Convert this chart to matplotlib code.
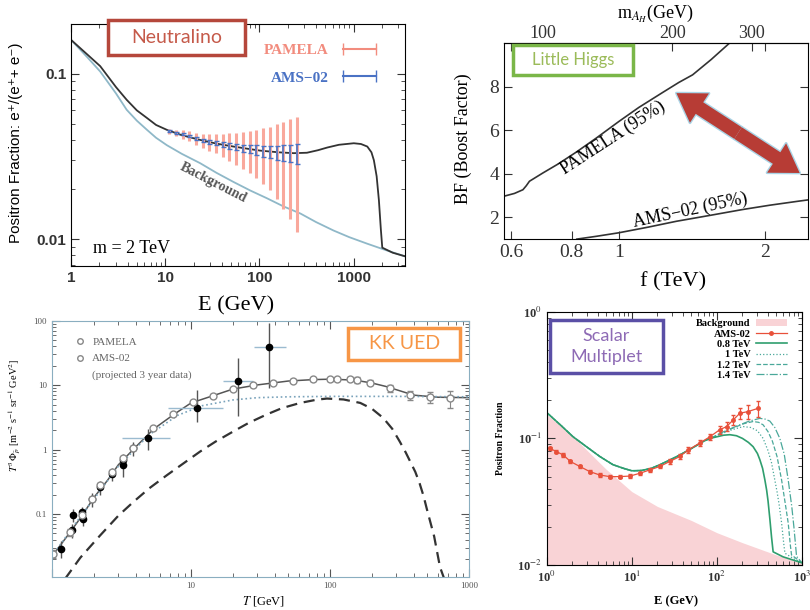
import numpy as np
import matplotlib
matplotlib.use('Agg')
import matplotlib.pyplot as plt
import matplotlib.ticker as mticker
from matplotlib.patches import Rectangle, Patch
from matplotlib.lines import Line2D

SERIF = ['Liberation Serif', 'DejaVu Serif']
SANS = ['Liberation Sans', 'DejaVu Sans']
BOXFONT = ['Lato', 'DejaVu Sans']
plt.rcParams['font.family'] = SERIF
plt.rcParams['mathtext.fontset'] = 'stix'

# ---------------- Neutralino (top left) ----------------
neu_E = [1, 1.5, 2.04, 3, 3.9, 5, 6.4, 8, 10.4, 15, 23.5, 35, 53, 75, 102, 160, 232, 320, 420,
         526, 700, 1007, 1200, 1400, 1550, 1645, 1760, 1860, 1950, 2020, 2600, 3500]
neu_total = [0.16, 0.13, 0.111, 0.083, 0.0695, 0.06, 0.054, 0.049, 0.0458, 0.0425, 0.0398,
             0.0378, 0.0363, 0.0352, 0.0343, 0.0335, 0.0331, 0.0333, 0.0345, 0.0358, 0.0372,
             0.038, 0.0376, 0.0363, 0.0335, 0.030, 0.024, 0.0172, 0.0115, 0.0089, 0.0083, 0.0079]
neu_bg_E = [1, 1.5, 2.04, 3, 3.9, 5, 6.4, 8, 10.4, 15, 23.5, 35, 53, 80, 120, 180, 273, 400,
            612, 900, 1400, 2200, 3500]
neu_bg = [0.16, 0.125, 0.103, 0.076, 0.0605, 0.052, 0.0458, 0.041, 0.037, 0.0328, 0.0288,
          0.0252, 0.0222, 0.0197, 0.0177, 0.0158, 0.0143, 0.0127, 0.0113, 0.0103, 0.0094,
          0.0086, 0.0079]
pam_E = [11, 13, 15.5, 18, 21, 25, 29.5, 35, 41, 48, 57, 67, 79, 93, 110, 130, 153, 180, 212, 250]
pam_c = [0.045, 0.044, 0.043, 0.042, 0.0405, 0.0395, 0.0388, 0.038, 0.0372, 0.0366, 0.036,
         0.0355, 0.035, 0.0346, 0.0342, 0.0338, 0.0335, 0.0333, 0.0332, 0.0331]
pam_err = [0.0015, 0.002, 0.0025, 0.003, 0.0035, 0.004, 0.0045, 0.005, 0.006, 0.007, 0.008,
           0.009, 0.010, 0.011, 0.0125, 0.014, 0.016, 0.018, 0.020, 0.022]
ams_err = [0.0004, 0.0005, 0.0006, 0.0007, 0.0008, 0.0009, 0.001, 0.0011, 0.0012, 0.0014,
           0.0016, 0.0018, 0.002, 0.0023, 0.0026, 0.003, 0.0033, 0.0037, 0.0041, 0.0045]

# ---------------- Little Higgs (top right) ----------------
lh_pam_f = [0.58, 0.61, 0.635, 0.645, 0.655, 0.698, 0.75, 0.818, 0.9, 1.0, 1.1, 1.234, 1.33,
            1.42, 1.55, 1.69]
lh_pam_bf = [2.97, 3.1, 3.27, 3.45, 3.66, 4.04, 4.45, 5.0, 5.65, 6.4, 7.05, 7.75, 8.2, 8.55,
             9.25, 10.0]
lh_ams_f = [0.82, 0.9, 1.0, 1.15, 1.315, 1.55, 1.80, 2.05, 2.34, 2.45]
lh_ams_bf = [1.0, 1.13, 1.29, 1.55, 1.82, 2.1, 2.36, 2.56, 2.74, 2.8]
lh_xticks = [0.6, 0.8, 1, 2]
lh_yticks = [2, 4, 6, 8]
mah_ticks = [100, 200, 300]
mah_slope, mah_offset = 169.0, -18.0   # m_AH(GeV) vs f(TeV)

# ---------------- KK UED (bottom left) ----------------
kk_ams_T = [1.02, 1.35, 1.63, 1.93, 2.21, 2.69, 3.26, 3.85, 5.36, 7.46, 10.4, 14.5, 20.1, 28.1,
            39.1, 54.5, 75.9, 100, 112, 139, 155, 194, 270, 377, 525, 730]
kk_ams_v = [0.024, 0.052, 0.095, 0.17, 0.28, 0.45, 0.73, 1.05, 2.15, 3.56, 5.5, 6.9, 8.75, 9.9,
            11.0, 11.8, 12.3, 12.4, 12.4, 12.4, 12.1, 11.0, 8.9, 7.0, 6.5, 6.35]
kk_ams_rel = [0.15, 0.12, 0.1, 0.08, 0.07, 0.06, 0.05, 0.05, 0.05, 0.05, 0.05, 0.05, 0.05, 0.05,
              0.05, 0.05, 0.05, 0.05, 0.06, 0.07, 0.1, 0.08, 0.12, 0.15, 0.2, 0.3]
kk_pam_T = [1.17, 1.39, 1.42, 1.64, 1.68, 1.93, 2.21, 2.69, 3.26, 3.26, 3.85, 4.93, 11, 21.7, 36.6]
kk_pam_v = [0.029, 0.056, 0.095, 0.107, 0.084, 0.17, 0.26, 0.42, 0.58, 0.69, 1.05, 1.54, 4.5, 11.5, 39]
kk_pam_lo = [0.021, 0.042, 0.075, 0.085, 0.065, 0.13, 0.2, 0.33, 0.38, 0.52, 0.8, 1.0, 2.7, 3.3, 9.1]
kk_pam_hi = [0.038, 0.07, 0.12, 0.13, 0.105, 0.21, 0.32, 0.52, 0.78, 0.86, 1.3, 2.1, 8.4, 26.7, 94]
kk_pam_tlo = [1.12, 1.33, 1.36, 1.57, 1.61, 1.85, 2.1, 2.55, 3.1, 3.1, 3.65, 3.17, 6.8, 16.9, 28.3]
kk_pam_thi = [1.22, 1.45, 1.48, 1.71, 1.75, 2.01, 2.32, 2.83, 3.42, 3.42, 4.05, 7.06, 16.9, 27.7, 48.3]
kk_tot_T = [1, 1.35, 1.65, 2, 2.5, 3, 4, 5.4, 7.5, 10, 14.5, 20, 30, 50, 75, 100, 150, 200, 250,
            300, 400, 600, 1000]
kk_tot_v = [0.022, 0.052, 0.095, 0.18, 0.33, 0.58, 1.1, 2.1, 3.5, 5.3, 6.9, 8.7, 10.1, 11.6, 12.2,
            12.4, 12.0, 10.8, 9.6, 8.5, 7.0, 6.5, 6.4]
kk_bg_T = [1, 1.5, 2, 3, 5, 8, 12, 20, 30, 50, 100, 300, 1000]
kk_bg_v = [0.022, 0.075, 0.17, 0.55, 1.7, 3.4, 4.8, 5.9, 6.4, 6.6, 6.7, 6.7, 6.6]
kk_sig_T = [1.24, 1.6, 2.21, 3, 3.85, 5, 6.7, 9, 11.6, 15, 20.1, 26, 34.9, 45, 60.9, 80, 94.8, 125,
            165, 200, 241, 280, 317, 350, 377, 410, 440, 470, 496, 560, 617, 660]
kk_sig_v = [0.0098, 0.021, 0.046, 0.094, 0.154, 0.25, 0.40, 0.63, 0.93, 1.33, 1.91, 2.6, 3.5, 4.4,
            5.3, 5.95, 6.2, 6.0, 5.3, 4.3, 3.1, 2.1, 1.33, 0.9, 0.65, 0.45, 0.3, 0.19, 0.12,
            0.045, 0.015, 0.01]

# ---------------- Scalar Multiplet (bottom right) ----------------
sm_bg_E = [1, 2, 3, 5, 10, 20, 50, 100, 200, 500, 1000]
sm_bg = [0.155, 0.105, 0.08, 0.057, 0.038, 0.029, 0.0225, 0.018, 0.015, 0.012, 0.0104]
sm_ams_E = [1.08, 1.3, 1.56, 1.9, 2.45, 3.2, 4.2, 5.5, 7.2, 9.5, 12.4, 16.3, 21.3, 27.9, 36.7,
            46, 63, 82.7, 108, 130, 156, 186, 233, 306]
sm_ams_v = [0.0836, 0.0787, 0.074, 0.0657, 0.06, 0.0547, 0.0514, 0.0499, 0.0499, 0.0504, 0.053,
            0.0564, 0.06, 0.0657, 0.072, 0.081, 0.092, 0.103, 0.117, 0.124, 0.14, 0.158, 0.163, 0.173]
sm_ams_rel = [0.03, 0.03, 0.03, 0.03, 0.03, 0.03, 0.03, 0.03, 0.03, 0.03, 0.03, 0.03, 0.03, 0.04,
              0.04, 0.05, 0.05, 0.06, 0.07, 0.08, 0.09, 0.1, 0.12, 0.15]
sm_E_low = [1, 1.5, 2.04, 3, 4.2, 6, 8, 10, 13, 17, 22, 34, 50, 70, 83]
sm_v_low = [0.16, 0.125, 0.103, 0.085, 0.072, 0.062, 0.058, 0.0555, 0.0558, 0.058, 0.0625, 0.072,
            0.083, 0.095, 0.1]
m08_E = [120, 142, 170, 200, 235, 267, 300, 320, 345, 367, 385, 400, 421, 440, 459, 600, 1000]
m08_v = [0.106, 0.107, 0.105, 0.1, 0.093, 0.086, 0.076, 0.068, 0.058, 0.047, 0.039, 0.032, 0.0227,
         0.0165, 0.0127, 0.0116, 0.0104]
m10_E = [110, 150, 204, 250, 300, 350, 400, 440, 480, 510, 540, 577, 610, 631, 800, 1000]
m10_v = [0.108, 0.117, 0.124, 0.122, 0.115, 0.1, 0.08, 0.064, 0.047, 0.038, 0.03, 0.0215, 0.015,
         0.0124, 0.0112, 0.0104]
m12_E = [110, 160, 210, 267, 310, 350, 400, 450, 510, 577, 640, 690, 730, 755, 1000]
m12_v = [0.109, 0.122, 0.131, 0.136, 0.134, 0.128, 0.113, 0.095, 0.072, 0.047, 0.03, 0.0215,
         0.0145, 0.012, 0.0104]
m14_E = [110, 170, 240, 321, 370, 420, 480, 550, 620, 690, 760, 805, 845, 865, 1000]
m14_v = [0.11, 0.125, 0.137, 0.144, 0.142, 0.137, 0.122, 0.1, 0.075, 0.047, 0.029, 0.020, 0.014,
         0.0117, 0.0104]


def gnu_ticks(ax, size, color='#333'):
    ax.tick_params(which='both', direction='in', top=True, right=True, colors=color)
    ax.tick_params(which='major', length=6, labelsize=size)
    ax.tick_params(which='minor', length=3)


def label_box(ax, x0, y0, x1, y1, text, tcolor, ecolor, size):
    ax.add_patch(Rectangle((x0, y0), x1 - x0, y1 - y0, transform=ax.transAxes, fc='white',
                           ec=ecolor, lw=2.5, clip_on=False, zorder=10))
    ax.text((x0 + x1) / 2, (y0 + y1) / 2, text, transform=ax.transAxes, ha='center', va='center',
            color=tcolor, fontsize=size, family=BOXFONT, linespacing=1.35, zorder=11)


def plain(v, pos):
    return '%g' % v


fig = plt.figure(figsize=(8.1, 6.1), dpi=100)

# ---- panel 1 ----
ax1 = fig.add_axes([0.0877, 0.564, 0.412, 0.397])
ax1.set_xscale('log')
ax1.set_yscale('log')
ax1.plot(neu_bg_E, neu_bg, color='#8fb8c8', lw=1.3)
ax1.plot(neu_E, neu_total, color='#333333', lw=1.3)
ax1.errorbar(pam_E, pam_c, yerr=pam_err, fmt='none', ecolor='#f9a89c', elinewidth=2.2, zorder=3)
ax1.errorbar(pam_E, pam_c, yerr=ams_err, fmt='none', ecolor='#4a72c4', elinewidth=1.2,
             capsize=1.8, zorder=4)
ax1.set_xlim(1, 3500)
ax1.set_ylim(0.0069, 0.2)
ax1.xaxis.set_major_formatter(mticker.FuncFormatter(plain))
ax1.yaxis.set_major_formatter(mticker.FuncFormatter(plain))
ax1.xaxis.set_minor_formatter(mticker.NullFormatter())
ax1.yaxis.set_minor_formatter(mticker.NullFormatter())
gnu_ticks(ax1, 11)
for t in ax1.get_xticklabels() + ax1.get_yticklabels():
    t.set_family(SANS)
    t.set_fontweight('bold')
ax1.set_xlabel('E (GeV)', fontsize=16)
ax1.xaxis.set_label_coords(0.496, -0.125)
ax1.set_ylabel('Positron Fraction: e\u207a/(e\u207a+ e\u207b)', fontsize=11, family=SANS)
ax1.yaxis.set_label_coords(-0.144, 0.51)
ax1.text(32.4, 0.0219, 'Background', rotation=-27, ha='center', va='center', fontsize=10,
         color='#555555', fontweight='bold')
ax1.text(0.065, 0.074, 'm = 2 TeV', transform=ax1.transAxes, ha='left', va='center', fontsize=13)
h_pam = Line2D([], [], color='#f28c7e', marker='|', markersize=8, lw=1.5)
h_ams = Line2D([], [], color='#4a72c4', marker='|', markersize=8, lw=1.5)
ax1.legend([h_pam, h_ams], ['PAMELA', 'AMS\u221202'], loc='upper right', bbox_to_anchor=(0.97, 0.975),
           frameon=False, markerfirst=False, numpoints=2, handlelength=2.8, handletextpad=0.65,
           labelspacing=0.9, labelcolor='linecolor', prop={'family': SERIF, 'weight': 'bold', 'size': 11})
label_box(ax1, 0.111, 0.872, 0.521, 1.017, 'Neutralino', '#c55a4a', '#b5473b', 14)

# ---- panel 2 ----
ax2 = fig.add_axes([0.622, 0.608, 0.375, 0.321])
ax2.set_xscale('log')
ax2.plot(lh_pam_f, lh_pam_bf, color='#333333', lw=1.2)
ax2.plot(lh_ams_f, lh_ams_bf, color='#333333', lw=1.2)
ax2.set_xlim(0.58, 2.45)
ax2.set_ylim(1, 10)
ax2.set_xticks(lh_xticks)
ax2.set_yticks(lh_yticks)
ax2.xaxis.set_major_formatter(mticker.FuncFormatter(plain))
ax2.xaxis.set_minor_locator(mticker.NullLocator())
gnu_ticks(ax2, 14)
ax2.set_xlabel('f (TeV)', fontsize=16)
ax2.xaxis.set_label_coords(0.556, -0.168)
ax2.set_ylabel('BF (Boost Factor)', fontsize=13)
ax2.yaxis.set_label_coords(-0.105, 0.515)
sec = ax2.secondary_xaxis('top', functions=(lambda f: mah_slope * f + mah_offset,
                                            lambda m: (m - mah_offset) / mah_slope))
sec.set_xticks(mah_ticks)
sec.xaxis.set_major_formatter(mticker.FuncFormatter(plain))
sec.xaxis.set_minor_locator(mticker.NullLocator())
sec.tick_params(direction='in', length=6, labelsize=13, colors='#333', pad=1)
sec.set_xlabel(r'm$_{A_H}$(GeV)', fontsize=13, labelpad=5)
ax2.text(0.975, 5.65, 'PAMELA (95%)', rotation=33, ha='center', va='center', fontsize=13)
ax2.text(1.405, 2.3, 'AMS\u221202 (95%)', rotation=12, ha='center', va='center', fontsize=13)
mid = (np.sqrt(1.315 * 2.36), (7.71 + 4.04) / 2)
tips = [(1.315, 7.71), (2.36, 4.04)]
for ec, lw in [('#a9d4e6', 2.0), ('none', 0)]:
    for tip in tips:
        ax2.annotate('', xy=tip, xytext=mid,
                     arrowprops=dict(arrowstyle='simple,head_width=1.4,head_length=1.1,tail_width=0.55',
                                     fc='#b73c35', ec=ec, lw=lw, mutation_scale=18,
                                     shrinkA=0, shrinkB=0))
label_box(ax2, 0.030, 0.837, 0.424, 0.990, 'Little Higgs', '#9bbb59', '#7ab648', 12)

# ---- panel 3 ----
ax3 = fig.add_axes([0.0642, 0.0541, 0.515, 0.42])
ax3.set_xscale('log')
ax3.set_yscale('log')
ax3.plot(kk_tot_T, kk_tot_v, color='#555555', lw=1.1)
ax3.plot(kk_bg_T, kk_bg_v, color='#7aa3bb', lw=1.2, ls=':')
ax3.plot(kk_sig_T, kk_sig_v, color='#333333', lw=1.6, ls=(0, (5, 3)))
kv = np.array(kk_pam_v)
kt = np.array(kk_pam_T)
ax3.errorbar(kt, kv, xerr=[kt - np.array(kk_pam_tlo), np.array(kk_pam_thi) - kt], fmt='none',
             ecolor='#9bbbd0', elinewidth=1)
ax3.errorbar(kt, kv, yerr=[kv - np.array(kk_pam_lo), np.array(kk_pam_hi) - kv], fmt='o',
             color='black', ms=4.5, ecolor='#555555', elinewidth=1)
av = np.array(kk_ams_v)
ax3.errorbar(kk_ams_T, av, yerr=av * np.array(kk_ams_rel), fmt='o', mfc='white', mec='#888888',
             ms=5, ecolor='#888888', elinewidth=0.8, capsize=2)
ax3.set_xlim(1, 1000)
ax3.set_ylim(0.0105, 100)
ax3.xaxis.set_major_formatter(mticker.FuncFormatter(lambda v, p: '' if v < 5 else '%g' % v))
ax3.yaxis.set_major_formatter(mticker.FuncFormatter(plain))
ax3.xaxis.set_minor_formatter(mticker.NullFormatter())
ax3.yaxis.set_minor_formatter(mticker.NullFormatter())
gnu_ticks(ax3, 6.5, '#555')
for s in ax3.spines.values():
    s.set_color('#8aaec0')
ax3.set_xlabel(r'$T$ [GeV]', fontsize=9)
ax3.xaxis.set_label_coords(0.508, -0.068)
ax3.set_ylabel(r'$T^3\Phi_{\bar p}$ [m$^{-2}$ s$^{-1}$ sr$^{-1}$ GeV$^2$]', fontsize=7.5)
ax3.yaxis.set_label_coords(-0.072, 0.63)
hk1 = Line2D([], [], ls='none', marker='o', mfc='white', mec='#888888', ms=4)
hk3 = Line2D([], [], ls='none')
ax3.legend([hk1, hk1, hk3], ['PAMELA', 'AMS-02', '(projected 3 year data)'], loc='upper left',
           bbox_to_anchor=(0.03, 0.975), frameon=False, handlelength=1, handletextpad=0.6,
           labelspacing=0.6, labelcolor='#666666', prop={'family': SERIF, 'size': 8})
label_box(ax3, 0.71, 0.848, 0.978, 0.973, 'KK UED', '#f79646', '#f79646', 14)

# ---- panel 4 ----
green = '#2f9e6e'
teal = '#4aa89a'
ax4 = fig.add_axes([0.675, 0.0738, 0.315, 0.415])
ax4.set_xscale('log')
ax4.set_yscale('log')
ax4.fill_between(sm_bg_E, 1e-3, sm_bg, color='#f9d3d6', lw=0)
ax4.plot(sm_E_low + m14_E, sm_v_low + m14_v, color=teal, lw=0.9, ls='-.')
ax4.plot(sm_E_low + m12_E, sm_v_low + m12_v, color=teal, lw=0.9, ls='--')
ax4.plot(sm_E_low + m10_E, sm_v_low + m10_v, color=teal, lw=0.9, ls=':')
ax4.plot(sm_E_low + m08_E, sm_v_low + m08_v, color=green, lw=1.2)
sv = np.array(sm_ams_v)
ax4.errorbar(sm_ams_E, sv, yerr=sv * np.array(sm_ams_rel), fmt='-o', color='#e8503a', ms=2.5,
             lw=0.9, elinewidth=0.9, capsize=1.5)
ax4.set_xlim(1, 1000)
ax4.set_ylim(0.01, 1)
pow10 = mticker.FuncFormatter(lambda v, p: r'10$^{%d}$' % round(np.log10(v)))
ax4.xaxis.set_major_formatter(pow10)
ax4.yaxis.set_major_formatter(pow10)
ax4.xaxis.set_minor_formatter(mticker.NullFormatter())
ax4.yaxis.set_minor_formatter(mticker.NullFormatter())
gnu_ticks(ax4, 9)
for t in ax4.get_xticklabels() + ax4.get_yticklabels():
    t.set_fontweight('bold')
ax4.set_xlabel('E (GeV)', fontsize=9, fontweight='bold')
ax4.xaxis.set_label_coords(0.505, -0.119)
ax4.set_ylabel('Positron Fraction', fontsize=7, fontweight='bold')
ax4.yaxis.set_label_coords(-0.165, 0.5)
hs = [Patch(fc='#f9d3d6', ec='none'),
      Line2D([], [], color='#e8503a', marker='o', ms=2.5, lw=0.9),
      Line2D([], [], color=green, lw=1.2),
      Line2D([], [], color=teal, lw=0.9, ls=':'),
      Line2D([], [], color=teal, lw=0.9, ls='--'),
      Line2D([], [], color=teal, lw=0.9, ls='-.')]
ax4.legend(hs, ['Background', 'AMS-02', '0.8 TeV', '1 TeV', '1.2 TeV', '1.4 TeV'], loc='upper right',
           bbox_to_anchor=(0.97, 1.0), frameon=False, markerfirst=False, handlelength=3,
           handletextpad=0.5, labelspacing=0.1, borderpad=0.2,
           prop={'family': SERIF, 'weight': 'bold', 'size': 7.5})
label_box(ax4, 0.012, 0.759, 0.455, 0.968, 'Scalar\nMultiplet', '#8e6bb5', '#5a4fa6', 13)

fig.savefig('out.png', dpi=100)
